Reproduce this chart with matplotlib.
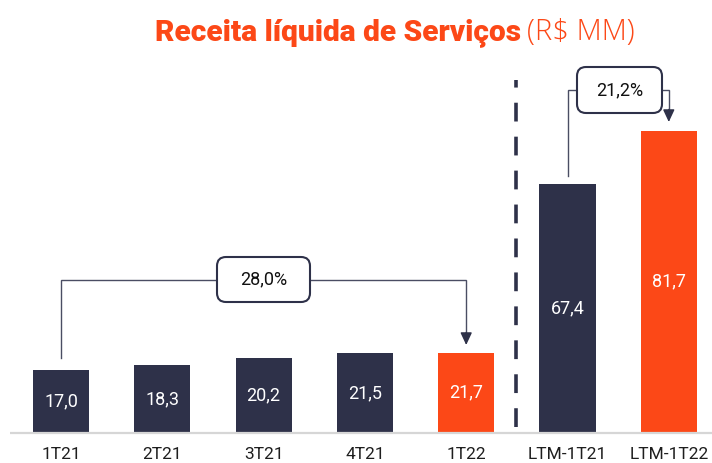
import matplotlib
matplotlib.use("Agg")
import matplotlib.pyplot as plt
from matplotlib.patches import FancyBboxPatch
from matplotlib.transforms import ScaledTranslation

plt.rcParams['font.family'] = ['Roboto', 'DejaVu Sans']

categories = ["1T21", "2T21", "3T21", "4T21", "1T22", "LTM-1T21", "LTM-1T22"]
values = [17.0, 18.3, 20.2, 21.5, 21.7, 67.4, 81.7]
value_labels = ["17,0", "18,3", "20,2", "21,5", "21,7", "67,4", "81,7"]
highlight = [False, False, False, False, True, False, True]
growth_labels = ["28,0%", "21,2%"]
growth_pairs = [(0, 4), (5, 6)]

NAVY = "#2e3149"
ORANGE = "#fc4817"

fig = plt.figure(figsize=(7.12, 4.63), dpi=100)
ax = fig.add_axes([0, 30 / 463, 1, 433 / 463])
ax.set_xlim(-61 / 101.3, (712 - 61) / 101.3)
ax.set_ylim(0, 433 / 3.7)
ax.axis("off")

xs = list(range(len(categories)))
colors = [ORANGE if h else NAVY for h in highlight]
ax.bar(xs, values, width=0.553, color=colors, zorder=2)

# baseline
ax.plot([-51 / 101.3, (712 - 61) / 101.3], [0, 0], color="#d6d6d6", lw=1.6,
        zorder=3, solid_capstyle="butt", clip_on=False)

for x, v, lab in zip(xs, values, value_labels):
    ax.text(x, v / 2, lab, ha="center", va="center", color="white",
            fontsize=13, zorder=4)

for x, c in zip(xs, categories):
    ax.text(x, -3.9, c, ha="center", va="top", color="#1e1e1e",
            fontsize=12.5, clip_on=False)

# separator dashed line
ax.plot([4.49, 4.49], [1.5, 95.4], color=NAVY, lw=2.6,
        linestyle=(0, (5.2, 4.2)), zorder=3)

def growth(i0, i1, ylevel, start_y, tip_y, boxx, label, bw, bh):
    ax.plot([i0, i0, i1, i1], [start_y, ylevel, ylevel, tip_y + 3.2],
            color="#4a4d63", lw=1.0, zorder=3, solid_joinstyle="miter")
    ax.annotate("", xy=(i1, tip_y), xytext=(i1, tip_y + 3.4),
                arrowprops=dict(arrowstyle="-|>,head_length=0.75,head_width=0.35",
                                color=NAVY, lw=1.0, shrinkA=0, shrinkB=0),
                zorder=4)
    tr = fig.dpi_scale_trans + ScaledTranslation(boxx, ylevel, ax.transData)
    p = FancyBboxPatch((-bw / 2, -bh / 2), bw, bh,
                       boxstyle="round,pad=0,rounding_size=0.09",
                       transform=tr, facecolor="white", edgecolor=NAVY,
                       lw=1.5, zorder=5)
    ax.add_patch(p)
    ax.text(boxx, ylevel, label, ha="center", va="center", fontsize=13,
            color="#111111", zorder=6)

growth(0, 4, (433 - 279.5) / 3.7, (433 - 358) / 3.7, (433 - 345) / 3.7,
       (263.5 - 61) / 101.3, growth_labels[0], 0.93, 0.45)
growth(5, 6, (433 - 90) / 3.7, (433 - 176) / 3.7, (433 - 122) / 3.7,
       (619.5 - 61) / 101.3, growth_labels[1], 0.85, 0.46)

# title
t1 = fig.text(155 / 712, 1 - 40 / 463, "Receita líquida de Serviços",
              fontsize=21.5, fontweight="black", color=ORANGE, ha="left",
              va="baseline")
fig.canvas.draw()
bb = t1.get_window_extent()
fig.text((bb.x1 + 6) / 712, 1 - 40 / 463, "(R$ MM)", fontsize=21,
         family=["Open Sans", "DejaVu Sans"], fontweight="light",
         color=ORANGE, ha="left", va="baseline")

fig.savefig("out.png", dpi=100)
